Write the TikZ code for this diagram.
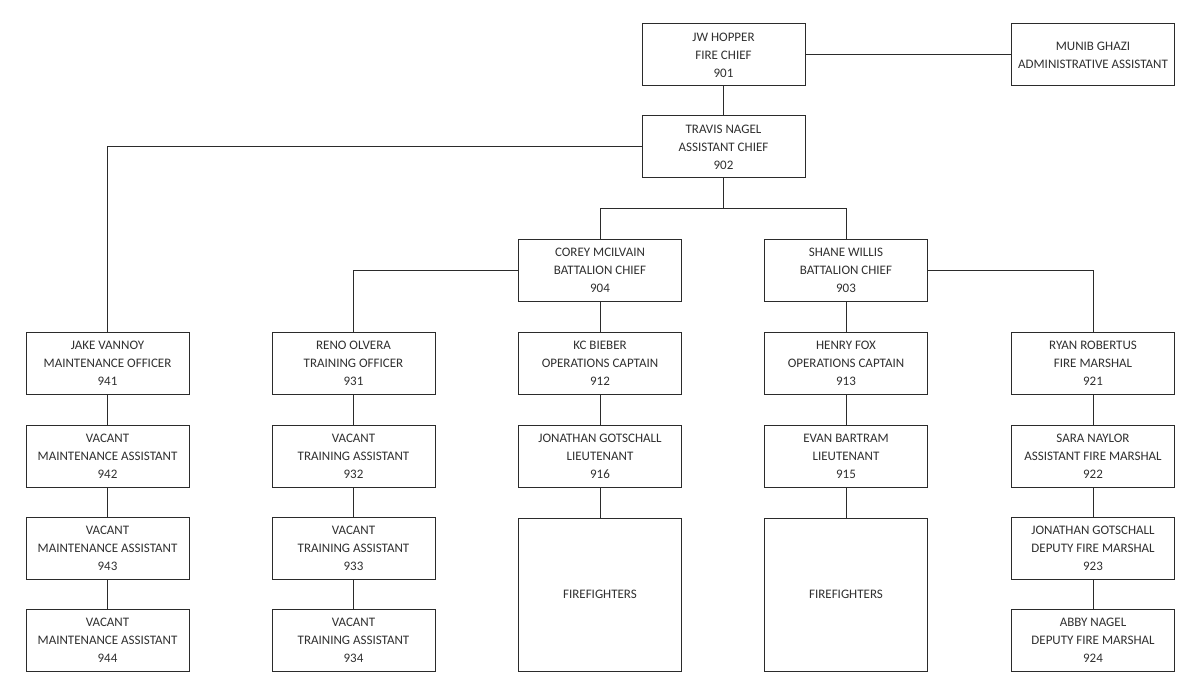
\documentclass[tikz,border=0pt]{standalone}
\usepackage{fontspec}
\setmainfont{Carlito}
\usetikzlibrary{arrows,shapes,positioning}
\definecolor{boxline}{HTML}{2B2B2B}
\definecolor{boxtext}{HTML}{303030}

\begin{document}
\begin{tikzpicture}[x=1pt,y=-1pt]
                \tikzstyle{every node}+=[inner sep=0pt]
                \tikzstyle{post}=[draw=boxline, line width=1pt, fill=white, minimum width=163pt, minimum height=62pt, align=center, text=boxtext, font=\fontsize{13}{18}\selectfont]
                \tikzstyle{crew}=[post, minimum height=153pt]
                \tikzstyle{link}=[draw=boxline, line width=1pt]
                \useasboundingbox (0,0) rectangle (1200,695);
                % top of the chart
                \node [post] (chief) at (723.5,55) {JW HOPPER\\FIRE CHIEF\\901};
                \node [post] (admin) at (1093,55) {MUNIB GHAZI\\ADMINISTRATIVE ASSISTANT};
                \node [post] (asst) at (723.5,147) {TRAVIS NAGEL\\ASSISTANT CHIEF\\902};
                \node [post] (bc904) at (600,270.5) {COREY MCILVAIN\\BATTALION CHIEF\\904};
                \node [post] (bc903) at (846,270.5) {SHANE WILLIS\\BATTALION CHIEF\\903};
                % maintenance
                \node [post] (m941) at (107.5,363.5) {JAKE VANNOY\\MAINTENANCE OFFICER\\941};
                \node [post] (m942) at (107.5,456) {VACANT\\MAINTENANCE ASSISTANT\\942};
                \node [post] (m943) at (107.5,548.5) {VACANT\\MAINTENANCE ASSISTANT\\943};
                \node [post] (m944) at (107.5,640.5) {VACANT\\MAINTENANCE ASSISTANT\\944};
                % training
                \node [post] (t931) at (353.5,363.5) {RENO OLVERA\\TRAINING OFFICER\\931};
                \node [post] (t932) at (353.5,456) {VACANT\\TRAINING ASSISTANT\\932};
                \node [post] (t933) at (353.5,548.5) {VACANT\\TRAINING ASSISTANT\\933};
                \node [post] (t934) at (353.5,640.5) {VACANT\\TRAINING ASSISTANT\\934};
                % operations
                \node [post] (o912) at (600,363.5) {KC BIEBER\\OPERATIONS CAPTAIN\\912};
                \node [post] (l916) at (600,456) {JONATHAN GOTSCHALL\\LIEUTENANT\\916};
                \node [crew] (ff1) at (600,594.5) {FIREFIGHTERS};
                \node [post] (o913) at (846,363.5) {HENRY FOX\\OPERATIONS CAPTAIN\\913};
                \node [post] (l915) at (846,456) {EVAN BARTRAM\\LIEUTENANT\\915};
                \node [crew] (ff2) at (846,594.5) {FIREFIGHTERS};
                % fire marshal
                \node [post] (f921) at (1093,363.5) {RYAN ROBERTUS\\FIRE MARSHAL\\921};
                \node [post] (f922) at (1093,456) {SARA NAYLOR\\ASSISTANT FIRE MARSHAL\\922};
                \node [post] (f923) at (1093,548.5) {JONATHAN GOTSCHALL\\DEPUTY FIRE MARSHAL\\923};
                \node [post] (f924) at (1093,640.5) {ABBY NAGEL\\DEPUTY FIRE MARSHAL\\924};
                % connectors
                \coordinate (split) at (723.5,209);
                \draw [link] (chief) -- (asst);
                \draw [link] (chief) -- (admin);
                \draw [link] (asst.west) -| (m941.north);
                \draw [link] (asst.south) -- (split);
                \draw [link] (split) -| (bc904.north);
                \draw [link] (split) -| (bc903.north);
                \draw [link] (bc904.west) -| (t931.north);
                \draw [link] (bc903.east) -| (f921.north);
                \draw [link] (bc904) -- (o912);
                \draw [link] (bc903) -- (o913);
                \draw [link] (m941) -- (m942) (m942) -- (m943) (m943) -- (m944);
                \draw [link] (t931) -- (t932) (t932) -- (t933) (t933) -- (t934);
                \draw [link] (o912) -- (l916) (l916) -- (ff1);
                \draw [link] (o913) -- (l915) (l915) -- (ff2);
                \draw [link] (f921) -- (f922) (f922) -- (f923) (f923) -- (f924);
            \end{tikzpicture}
\end{document}
